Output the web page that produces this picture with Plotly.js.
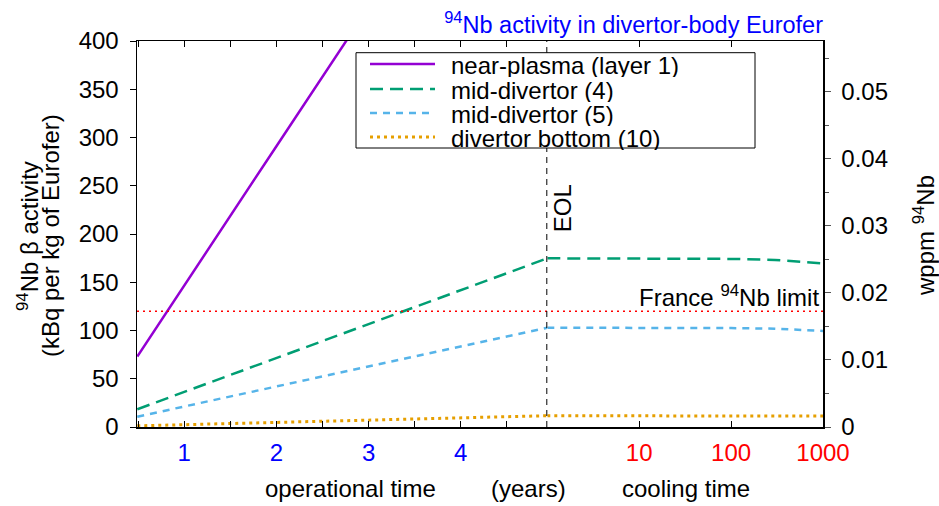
<!DOCTYPE html>
<html>
<head>
<meta charset="utf-8">
<script src="https://cdn.plot.ly/plotly-3.0.1.min.js"></script>
<style>html,body{margin:0;padding:0;background:#fff;}#chart{width:939px;height:506px;}</style>
</head>
<body>
<div id="chart"></div>
<script>
// ---- data ----
const opTime   = [0.49, 1, 2, 3, 4, 4.94];          // operational time, years (EOL = 4.94)
const coolTime = [1, 3, 10, 30, 100, 300, 1000];    // cooling time, years
const eolTime = 4.94;
const franceLimit = 120;                            // kBq/kg

const seriesNames = ["near-plasma (layer 1)", "mid-divertor (4)", "mid-divertor (5)", "divertor bottom (10)"];
const nearPlasmaOp   = [73, 147, 291, 435, 579, 714];
const nearPlasmaCool = [714, 714, 713, 712, 711, 704, 690];
const mid4Op   = [18.4, 36.4, 71.6, 106.8, 142, 174.8];
const mid4Cool = [174.8, 174.8, 174.7, 174.6, 174.2, 173.1, 169.6];
const mid5Op   = [10.7, 21.3, 42, 62.7, 83.4, 102.9];
const mid5Cool = [102.9, 102.9, 102.9, 102.8, 102.5, 101.9, 99.5];
const bottomOp   = [1.2, 2.4, 4.8, 7.1, 9.4, 11.7];
const bottomCool = [11.7, 11.7, 11.7, 11.7, 11.6, 11.6, 11.3];

const opTickVals = [1, 2, 3, 4];
const coolTickVals = [10, 100, 1000];
const coolTickText = ["10", "100", "1000"];
const leftRange = [0, 400];
const rightRange = [0, 0.0576];   // wppm 94Nb corresponding to 0..400 kBq/kg

// ---- styles ----
const FONT = "Liberation Sans, Arial, Helvetica, sans-serif";
const FS = 24;
const styles = [
  {color: "#9400d3", dash: "solid", width: 2.5},
  {color: "#009e73", dash: "13px,7px", width: 2.5},
  {color: "#56b4e9", dash: "7px,6px", width: 2.5},
  {color: "#e69f00", dash: "3px,4px", width: 3}
];
const opSeries = [nearPlasmaOp, mid4Op, mid5Op, bottomOp];
const coolSeries = [nearPlasmaCool, mid4Cool, mid5Cool, bottomCool];

const traces = [];
for (let i = 0; i < 4; i++) {
  traces.push({x: opTime, y: opSeries[i], xaxis: "x", yaxis: "y", mode: "lines",
    name: seriesNames[i], showlegend: false, line: styles[i], hoverinfo: "skip"});
  traces.push({x: coolTime, y: coolSeries[i], xaxis: "x2", yaxis: "y", mode: "lines",
    name: seriesNames[i], showlegend: false, line: styles[i], hoverinfo: "skip"});
}
// empty trace so that the right-hand wppm axis is drawn
traces.push({x: [], y: [], xaxis: "x2", yaxis: "y2", mode: "lines", showlegend: false, hoverinfo: "skip"});

// geometry helpers for paper coords (plot area: x 137..823, y 41..427)
const PL = 137, PR = 823, PT = 41, PB = 427;
const px = v => (v - PL) / (PR - PL);
const py = v => (PB - v) / (PB - PT);
const split = px(547.3);

const shapes = [
  {type: "line", xref: "paper", x0: 0, x1: 1, yref: "y", y0: franceLimit, y1: franceLimit,
   line: {color: "#ff0000", width: 1.5, dash: "2px,4px"}},
  {type: "line", xref: "x", x0: eolTime, x1: eolTime, yref: "paper", y0: 0, y1: 1,
   line: {color: "#000", width: 2, dash: "6px,5px"}},
  // legend box
  {type: "rect", xref: "paper", yref: "paper", x0: px(356), x1: px(755), y0: py(148), y1: py(52.7),
   line: {color: "#000", width: 1}, fillcolor: "#fff", layer: "above"}
];
const legendY = [64, 89, 113, 137];
const annotations = [];
for (let i = 0; i < 4; i++) {
  shapes.push({type: "line", xref: "paper", yref: "paper", x0: px(370), x1: px(435),
    y0: py(legendY[i]), y1: py(legendY[i]), line: styles[i], layer: "above"});
  annotations.push({xref: "paper", yref: "paper", x: px(449), y: py(legendY[i] + 1), xanchor: "left",
    yanchor: "middle", height: 23, text: seriesNames[i], showarrow: false,
    font: {family: FONT, size: FS, color: "#000"}});
}
const txt = (o) => Object.assign({showarrow: false, font: {family: FONT, size: FS, color: "#000"}}, o);
annotations.push(
  txt({xref: "paper", yref: "y", x: px(821), y: franceLimit, xanchor: "right", yanchor: "bottom",
   text: "France <sup>94</sup>Nb limit", yshift: -2}),
  txt({xref: "x", yref: "paper", x: eolTime, y: py(208), xshift: 15, xanchor: "center", yanchor: "middle",
   textangle: -90, text: "EOL"}),
  txt({xref: "paper", yref: "paper", x: px(28), y: py(236), xanchor: "center", yanchor: "middle",
   textangle: -90, text: "<sup>94</sup>Nb β activity"}),
  txt({xref: "paper", yref: "paper", x: px(50), y: py(236), xanchor: "center", yanchor: "middle",
   textangle: -90, text: "(kBq per kg of Eurofer)"}),
  txt({xref: "paper", yref: "paper", x: px(924), y: py(236), xanchor: "center", yanchor: "middle",
   textangle: -90, text: "wppm <sup>94</sup>Nb"}),
  txt({xref: "paper", yref: "paper", x: px(350), y: py(488), xanchor: "center", yanchor: "middle",
   text: "operational time"}),
  txt({xref: "paper", yref: "paper", x: px(528), y: py(488), xanchor: "center", yanchor: "middle",
   text: "(years)"}),
  txt({xref: "paper", yref: "paper", x: px(686), y: py(488), xanchor: "center", yanchor: "middle",
   text: "cooling time"})
);

const axBase = {showgrid: false, zeroline: false, showline: true, linecolor: "#000", linewidth: 1.5,
  tickcolor: "#000", tickwidth: 1, ticklen: 6};

const layout = {
  width: 939, height: 506,
  margin: {l: PL, r: 939 - PR, t: PT, b: 506 - PB, pad: 0},
  paper_bgcolor: "#fff", plot_bgcolor: "#fff",
  font: {family: FONT, size: FS, color: "#000"},
  showlegend: false,
  title: {text: "<sup>94</sup>Nb activity in divertor-body Eurofer", xref: "paper", x: 1, xanchor: "right",
    yref: "container", y: 1 - 25 / 506, yanchor: "middle", font: {family: FONT, size: 23.5, color: "#0000ff"}},
  xaxis: Object.assign({}, axBase, {domain: [0, split], range: [0.487, eolTime], tickvals: opTickVals,
    ticks: "inside", mirror: "ticks", tickfont: {color: "#0000ff", size: FS}, ticklabelstandoff: 4,
    minor: {dtick: 0.5, tick0: 0, ticks: "inside", ticklen: 6, tickcolor: "#000", showgrid: false}}),
  xaxis2: Object.assign({}, axBase, {domain: [split, 1], type: "log", range: [0, 3], anchor: "y",
    tickvals: coolTickVals, ticktext: coolTickText, ticks: "inside", mirror: "ticks",
    tickfont: {color: "#ff0000", size: FS}, ticklabelstandoff: 4}),
  yaxis: Object.assign({}, axBase, {range: leftRange, dtick: 50, ticks: "outside", anchor: "x",
    tickfont: {size: FS}, ticklabelstandoff: 6}),
  yaxis2: Object.assign({}, axBase, {range: rightRange, dtick: 0.01, ticks: "outside", overlaying: "y",
    side: "right", anchor: "x2", tickfont: {size: FS}, ticklabelstandoff: 6, tickcolor: "#555",
    minor: {dtick: 0.005, ticks: "outside", ticklen: 4, tickcolor: "#555", showgrid: false}}),
  shapes: shapes,
  annotations: annotations
};

Plotly.newPlot("chart", traces, layout, {staticPlot: true, displayModeBar: false});
</script>
</body>
</html>
